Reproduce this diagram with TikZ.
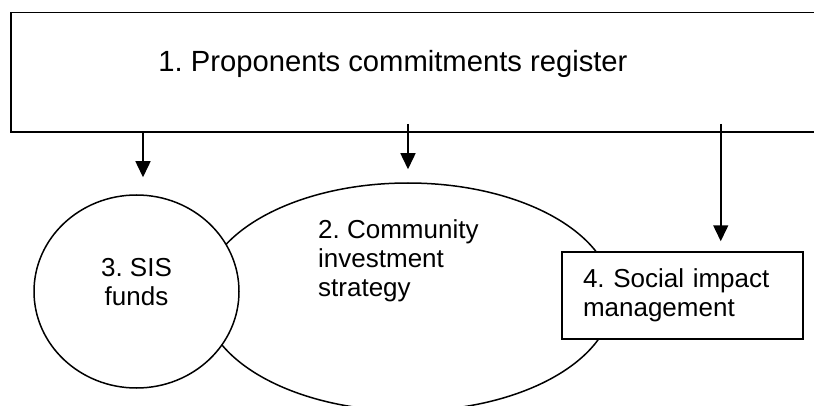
\documentclass[tikz,border=0pt]{standalone}
\usepackage{fontspec}
\setmainfont{Liberation Sans}
\frenchspacing
\usetikzlibrary{arrows.meta, shapes.geometric}

\begin{document}
\begin{tikzpicture}[x=1pt, y=1pt, >={Triangle[length=16pt, width=15pt]},
  lbl/.style={font=\fontsize{26}{29}\selectfont, align=left, inner sep=0pt},
  outline/.style={draw, line width=1.5pt, inner sep=0pt},
  flow/.style={->, line width=1.5pt}]
\useasboundingbox (0,0) rectangle (814,405);
% register box, runs on past the right edge
\node[outline, rectangle, anchor=north west, minimum width=830pt, minimum height=119.5pt] (register) at (10,393) {};
\node[lbl, font=\fontsize{29.2}{34}\selectfont, anchor=base] (registertxt) at (393,333) {1. Proponents commitments register};
% strategy ellipse, drawn first so the oval and box cover it
\node[outline, ellipse, minimum width=410pt, minimum height=228pt] (strategy) at (408,108) {};
\node[lbl, anchor=north west] (strategytxt) at (318,186) {2. Community\\investment\\strategy};
\node[outline, ellipse, fill=white, minimum width=205pt, minimum height=193pt, lbl, align=center, text depth=19pt] (sis) at (136.5,113.5) {3. SIS\\funds};
\node[outline, rectangle, fill=white, lbl, text width=199pt, inner xsep=21pt, minimum height=87pt] (impact) at (682.5,109.5) {4. Social impact\\management};
% arrows down from the register
\draw[flow] ([xshift=6.5pt]sis.north |- register.south) -- ([xshift=6.5pt, yshift=17pt]sis.north);
\draw[flow] ([yshift=9pt]register.south -| strategy) -- ([yshift=13pt]strategy.north);
\draw[flow] ([xshift=-83pt, yshift=9pt]register.south -| impact.north east) -- ([xshift=-83pt, yshift=10pt]impact.north east);
\end{tikzpicture}
\end{document}
